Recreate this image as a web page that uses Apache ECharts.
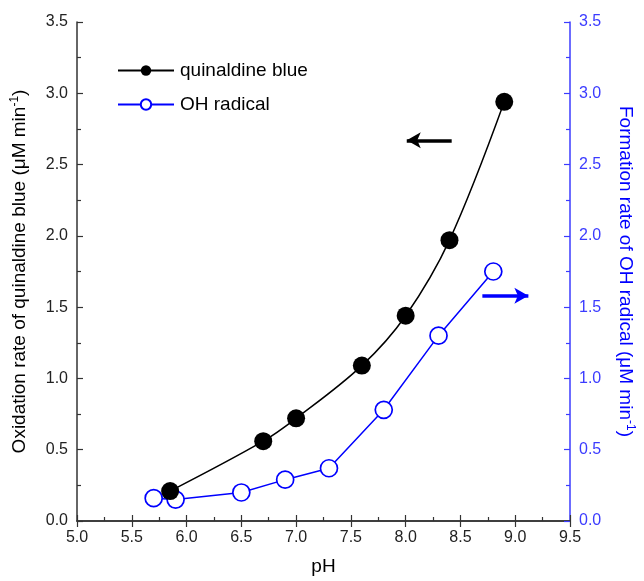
<!DOCTYPE html>
<html>
<head>
<meta charset="utf-8">
<script src="https://cdn.jsdelivr.net/npm/echarts@6/dist/echarts.min.js"></script>
<style>html,body{margin:0;padding:0;background:#fff}#c{width:644px;height:581px}</style>
</head>
<body>
<div id="c"></div>
<script>
var xTicks = [5.0, 5.5, 6.0, 6.5, 7.0, 7.5, 8.0, 8.5, 9.0, 9.5];
var yTicks = [0.0, 0.5, 1.0, 1.5, 2.0, 2.5, 3.0, 3.5];
var qbPH = [5.85, 6.7, 7.0, 7.6, 8.0, 8.4, 8.9];
var qbRate = [0.21, 0.56, 0.72, 1.09, 1.44, 1.97, 2.94];
var ohPH = [5.7, 5.9, 6.5, 6.9, 7.3, 7.8, 8.3, 8.8];
var ohRate = [0.16, 0.15, 0.20, 0.29, 0.37, 0.78, 1.30, 1.75];
var blackArrow = [[8.42, 2.67], [8.01, 2.67]];
var blueArrow = [[8.70, 1.58], [9.12, 1.58]];

var BLUE = '#0000ff';
var AXBLUE = '#3b3bff';
var FONT = 'Liberation Sans, Arial, sans-serif';

function pairs(xs, ys) { return xs.map(function (x, i) { return [x, ys[i]]; }); }

var chart = echarts.init(document.getElementById('c'), null, {renderer: 'canvas'});
var xMin = xTicks[0], xMax = xTicks[xTicks.length - 1];
var yMin = yTicks[0], yMax = yTicks[yTicks.length - 1];
var xStep = xTicks[1] - xTicks[0], yStep = yTicks[1] - yTicks[0];

var tickCommon = {show: true, inside: true, length: 6, lineStyle: {width: 1.2}};
var minorCommon = {show: true, splitNumber: 2, length: 4, lineStyle: {width: 1.2}};
var fmt = function (v) { return v.toFixed(1); };

chart.setOption({
  animation: false,
  backgroundColor: '#fff',
  grid: {left: 77, right: 69, top: 22, bottom: 57, containLabel: false},
  legend: {
    left: 112, top: 56, orient: 'vertical', itemGap: 15, itemWidth: 56, itemHeight: 13,
    textStyle: {fontFamily: FONT, fontSize: 19, color: '#000', padding: [0, 0, 0, 1]},
    data: ['quinaldine blue', 'OH radical']
  },
  xAxis: [{
    type: 'value', min: xMin, max: xMax, interval: xStep,
    name: 'pH', nameLocation: 'middle', nameGap: 36,
    nameTextStyle: {fontFamily: FONT, fontSize: 19, color: '#000'},
    axisLine: {show: true, lineStyle: {color: '#333', width: 1.5}},
    axisTick: tickCommon, minorTick: minorCommon,
    axisLabel: {fontFamily: FONT, fontSize: 16, color: '#222', margin: 9, formatter: fmt},
    splitLine: {show: false}
  }, {
    type: 'value', min: xMin, max: xMax, interval: xStep, position: 'top',
    axisLine: {show: true, lineStyle: {color: '#333', width: 1.5}},
    axisTick: tickCommon, minorTick: {show: false},
    axisLabel: {show: false}, splitLine: {show: false}
  }],
  yAxis: [{
    type: 'value', min: yMin, max: yMax, interval: yStep, position: 'left',
    name: '{t|Oxidation rate of quinaldine blue (\u03bcM min}{s|-1}{t|)}',
    nameLocation: 'middle', nameGap: 47, nameRotate: 90,
    nameTextStyle: {fontFamily: FONT, fontSize: 19, color: '#000',
      rich: {t: {fontFamily: FONT, fontSize: 19, color: '#000'},
             s: {fontFamily: FONT, fontSize: 12, color: '#000', verticalAlign: 'top', padding: [0, 0, 9, 0]}}},
    axisLine: {show: true, lineStyle: {color: '#333', width: 1.5}},
    axisTick: tickCommon, minorTick: minorCommon,
    axisLabel: {fontFamily: FONT, fontSize: 16, color: '#222', margin: 9, formatter: fmt},
    splitLine: {show: false}
  }, {
    type: 'value', min: yMin, max: yMax, interval: yStep, position: 'right',
    name: '{t|Formation rate of OH radical (\u03bcM min}{s|-1}{t|)}',
    nameLocation: 'middle', nameGap: 45, nameRotate: -90,
    nameTextStyle: {fontFamily: FONT, fontSize: 19, color: BLUE,
      rich: {t: {fontFamily: FONT, fontSize: 19, color: BLUE},
             s: {fontFamily: FONT, fontSize: 12, color: BLUE, verticalAlign: 'top', padding: [0, 0, 9, 0]}}},
    axisLine: {show: true, lineStyle: {color: AXBLUE, width: 1.5}},
    axisTick: tickCommon, minorTick: minorCommon,
    axisLabel: {fontFamily: FONT, fontSize: 16, color: AXBLUE, margin: 9, formatter: fmt},
    splitLine: {show: false}
  }],
  series: [{
    name: 'quinaldine blue', type: 'line', xAxisIndex: 0, yAxisIndex: 0,
    data: pairs(qbPH, qbRate), smooth: 0.35,
    symbol: 'circle', symbolSize: 18,
    lineStyle: {color: '#000', width: 1.5},
    itemStyle: {color: '#000', borderColor: '#000', borderWidth: 0},
    z: 3,
    markLine: {
      silent: true, symbol: ['none', 'arrow'], symbolSize: [12, 14],
      label: {show: false},
      lineStyle: {color: '#000', width: 3.5, type: 'solid'},
      data: [[{coord: blackArrow[0]}, {coord: blackArrow[1]}]]
    }
  }, {
    name: 'OH radical', type: 'line', xAxisIndex: 0, yAxisIndex: 1,
    data: pairs(ohPH, ohRate),
    symbol: 'circle', symbolSize: 17,
    lineStyle: {color: BLUE, width: 1.5},
    itemStyle: {color: '#fff', borderColor: BLUE, borderWidth: 1.7},
    z: 2,
    markLine: {
      silent: true, symbol: ['none', 'arrow'], symbolSize: [12, 14],
      label: {show: false},
      lineStyle: {color: BLUE, width: 3.5, type: 'solid'},
      data: [[{coord: blueArrow[0]}, {coord: blueArrow[1]}]]
    }
  }]
});
</script>
</body>
</html>
